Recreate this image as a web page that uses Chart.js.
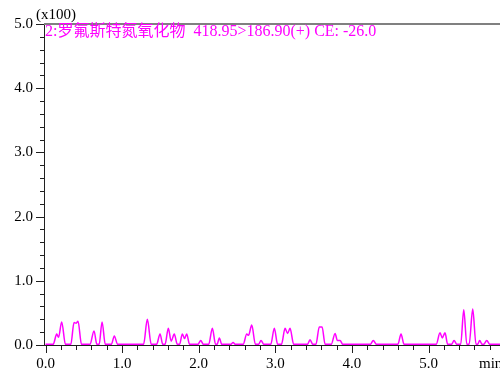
<!DOCTYPE html>
<html>
<head>
<meta charset="utf-8">
<script src="https://cdn.jsdelivr.net/npm/chart.js@4"></script>
<style>
  html, body { margin: 0; padding: 0; background: #fff; }
  #wrap { width: 500px; height: 373px; }
</style>
</head>
<body>
<div id="wrap"><canvas id="chrom" width="500" height="373"></canvas></div>
<script>
// 色谱图：罗氟斯特氮氧化物 MRM 通道

const TITLE = "2:罗氟斯特氮氧化物  418.95>186.90(+) CE: -26.0";
const Y_UNIT = "(x100)";
const X_UNIT = "min";

// 保留时间 (min) 与强度 (x100)
const times = [
  0.00, 0.10, 0.146, 0.17, 0.211, 0.26, 0.33, 0.372, 0.40, 0.424, 0.47,
  0.58, 0.633, 0.67, 0.70, 0.738, 0.78, 0.86, 0.898, 0.94,
  1.28, 1.329, 1.38, 1.45, 1.495, 1.53, 1.56, 1.603, 1.64, 1.681, 1.72,
  1.75, 1.786, 1.815, 1.843, 1.88, 1.99, 2.026, 2.06,
  2.13, 2.178, 2.22, 2.24, 2.269, 2.30, 2.42, 2.448, 2.48,
  2.58, 2.627, 2.65, 2.692, 2.74, 2.78, 2.813, 2.85,
  2.94, 2.987, 3.03, 3.08, 3.127, 3.16, 3.192, 3.24,
  3.42, 3.453, 3.49, 3.53, 3.574, 3.61, 3.65, 3.73, 3.78, 3.81, 3.845, 3.88,
  4.24, 4.279, 4.32, 4.60, 4.641, 4.68,
  5.10, 5.15, 5.18, 5.215, 5.25, 5.30, 5.333, 5.37,
  5.42, 5.46, 5.50, 5.53, 5.577, 5.62, 5.64, 5.668, 5.70, 5.72, 5.76, 5.80, 5.95,
];
const intensity = [
  0.01, 0.01, 0.17, 0.12, 0.36, 0.01, 0.01, 0.35, 0.34, 0.37, 0.01,
  0.01, 0.22, 0.01, 0.01, 0.36, 0.01, 0.01, 0.14, 0.01,
  0.01, 0.40, 0.01, 0.01, 0.17, 0.01, 0.01, 0.26, 0.06, 0.17, 0.01,
  0.01, 0.17, 0.10, 0.17, 0.01, 0.01, 0.07, 0.01,
  0.01, 0.26, 0.01, 0.01, 0.11, 0.01, 0.01, 0.04, 0.01,
  0.01, 0.17, 0.15, 0.31, 0.01, 0.01, 0.07, 0.01,
  0.01, 0.26, 0.01, 0.01, 0.26, 0.18, 0.26, 0.01,
  0.01, 0.08, 0.01, 0.01, 0.28, 0.28, 0.01, 0.01, 0.18, 0.07, 0.07, 0.01,
  0.01, 0.07, 0.01, 0.01, 0.17, 0.01,
  0.01, 0.19, 0.11, 0.19, 0.01, 0.01, 0.07, 0.01,
  0.01, 0.55, 0.01, 0.01, 0.56, 0.01, 0.01, 0.07, 0.01, 0.01, 0.07, 0.01, 0.01,
];

const xMajor = [0, 1, 2, 3, 4, 5];
const xTicks = [
  0, 0.2, 0.4, 0.6, 0.8, 1, 1.2, 1.4, 1.6, 1.8, 2, 2.2, 2.4, 2.6, 2.8,
  3, 3.2, 3.4, 3.6, 3.8, 4, 4.2, 4.4, 4.6, 4.8, 5, 5.2, 5.4, 5.6, 5.8,
];
const yMajor = [0, 1, 2, 3, 4, 5];
const yTicks = [
  0, 0.2, 0.4, 0.6, 0.8, 1, 1.2, 1.4, 1.6, 1.8, 2, 2.2, 2.4, 2.6, 2.8,
  3, 3.2, 3.4, 3.6, 3.8, 4, 4.2, 4.4, 4.6, 4.8, 5,
];

const LINE_COLOR = "#ff00ff";
const AXIS_COLOR = "#202020";
const SERIF = '"Liberation Serif", "Times New Roman", serif';

// 刻度线（主/次长度不同）与文字
const decorPlugin = {
  id: "decor",
  afterDraw(chart) {
    const { ctx, chartArea, scales } = chart;
    ctx.save();
    // 顶部灰线
    ctx.strokeStyle = "#808080";
    ctx.lineWidth = 2;
    ctx.beginPath();
    ctx.moveTo(chartArea.left, chartArea.top);
    ctx.lineTo(chartArea.right, chartArea.top);
    ctx.stroke();

    ctx.strokeStyle = AXIS_COLOR;
    ctx.lineWidth = 1;
    ctx.beginPath();
    xTicks.forEach((v) => {
      const px = Math.round(scales.x.getPixelForValue(v)) + 0.5;
      const len = xMajor.includes(v) ? 8 : 5;
      ctx.moveTo(px, chartArea.bottom);
      ctx.lineTo(px, chartArea.bottom + len);
    });
    yTicks.forEach((v) => {
      const py = Math.round(scales.y.getPixelForValue(v)) + 0.5;
      const len = yMajor.includes(v) ? 8 : 4;
      ctx.moveTo(chartArea.left, py);
      ctx.lineTo(chartArea.left - len, py);
    });
    ctx.stroke();

    ctx.font = "15px " + SERIF;
    ctx.fillStyle = "#000";
    ctx.textBaseline = "middle";
    ctx.textAlign = "left";
    ctx.fillText(Y_UNIT, 36, 15);
    ctx.fillText(X_UNIT, 479, 364);

    ctx.fillStyle = LINE_COLOR;
    ctx.font = '16px "Liberation Serif", "Noto Sans CJK SC", serif';
    ctx.fillText(TITLE, chartArea.left + 1, 32);
    ctx.restore();
  },
};

new Chart(document.getElementById("chrom").getContext("2d"), {
  type: "line",
  data: {
    datasets: [
      {
        data: times.map((t, i) => ({ x: t, y: intensity[i] })),
        borderColor: LINE_COLOR,
        borderWidth: 1.5,
        pointRadius: 0,
        fill: false,
        cubicInterpolationMode: "monotone",
      },
    ],
  },
  options: {
    responsive: false,
    animation: false,
    layout: { padding: { top: 24, right: 0, bottom: 0, left: 0 } },
    plugins: {
      legend: { display: false },
      tooltip: { enabled: false },
    },
    scales: {
      x: {
        type: "linear",
        min: -0.02,
        max: 5.933,
        afterFit: (s) => { s.height = 28; },
        afterBuildTicks: (s) => { s.ticks = xTicks.map((v) => ({ value: v })); },
        grid: { display: false, drawTicks: false },
        border: { display: true, color: AXIS_COLOR, width: 1 },
        ticks: {
          autoSkip: false,
          maxRotation: 0,
          padding: 10,
          color: "#000",
          font: { family: SERIF, size: 15 },
          callback: (v) => (xMajor.includes(v) ? v.toFixed(1) : ""),
        },
      },
      y: {
        min: 0,
        max: 5,
        afterFit: (s) => { s.width = 44; },
        afterBuildTicks: (s) => { s.ticks = yTicks.map((v) => ({ value: v })); },
        grid: { display: false, drawTicks: false },
        border: { display: true, color: AXIS_COLOR, width: 1 },
        ticks: {
          autoSkip: false,
          padding: 11,
          color: "#000",
          font: { family: SERIF, size: 15 },
          callback: (v) => (yMajor.includes(v) ? v.toFixed(1) : ""),
        },
      },
    },
  },
  plugins: [decorPlugin],
});
</script>
</body>
</html>
